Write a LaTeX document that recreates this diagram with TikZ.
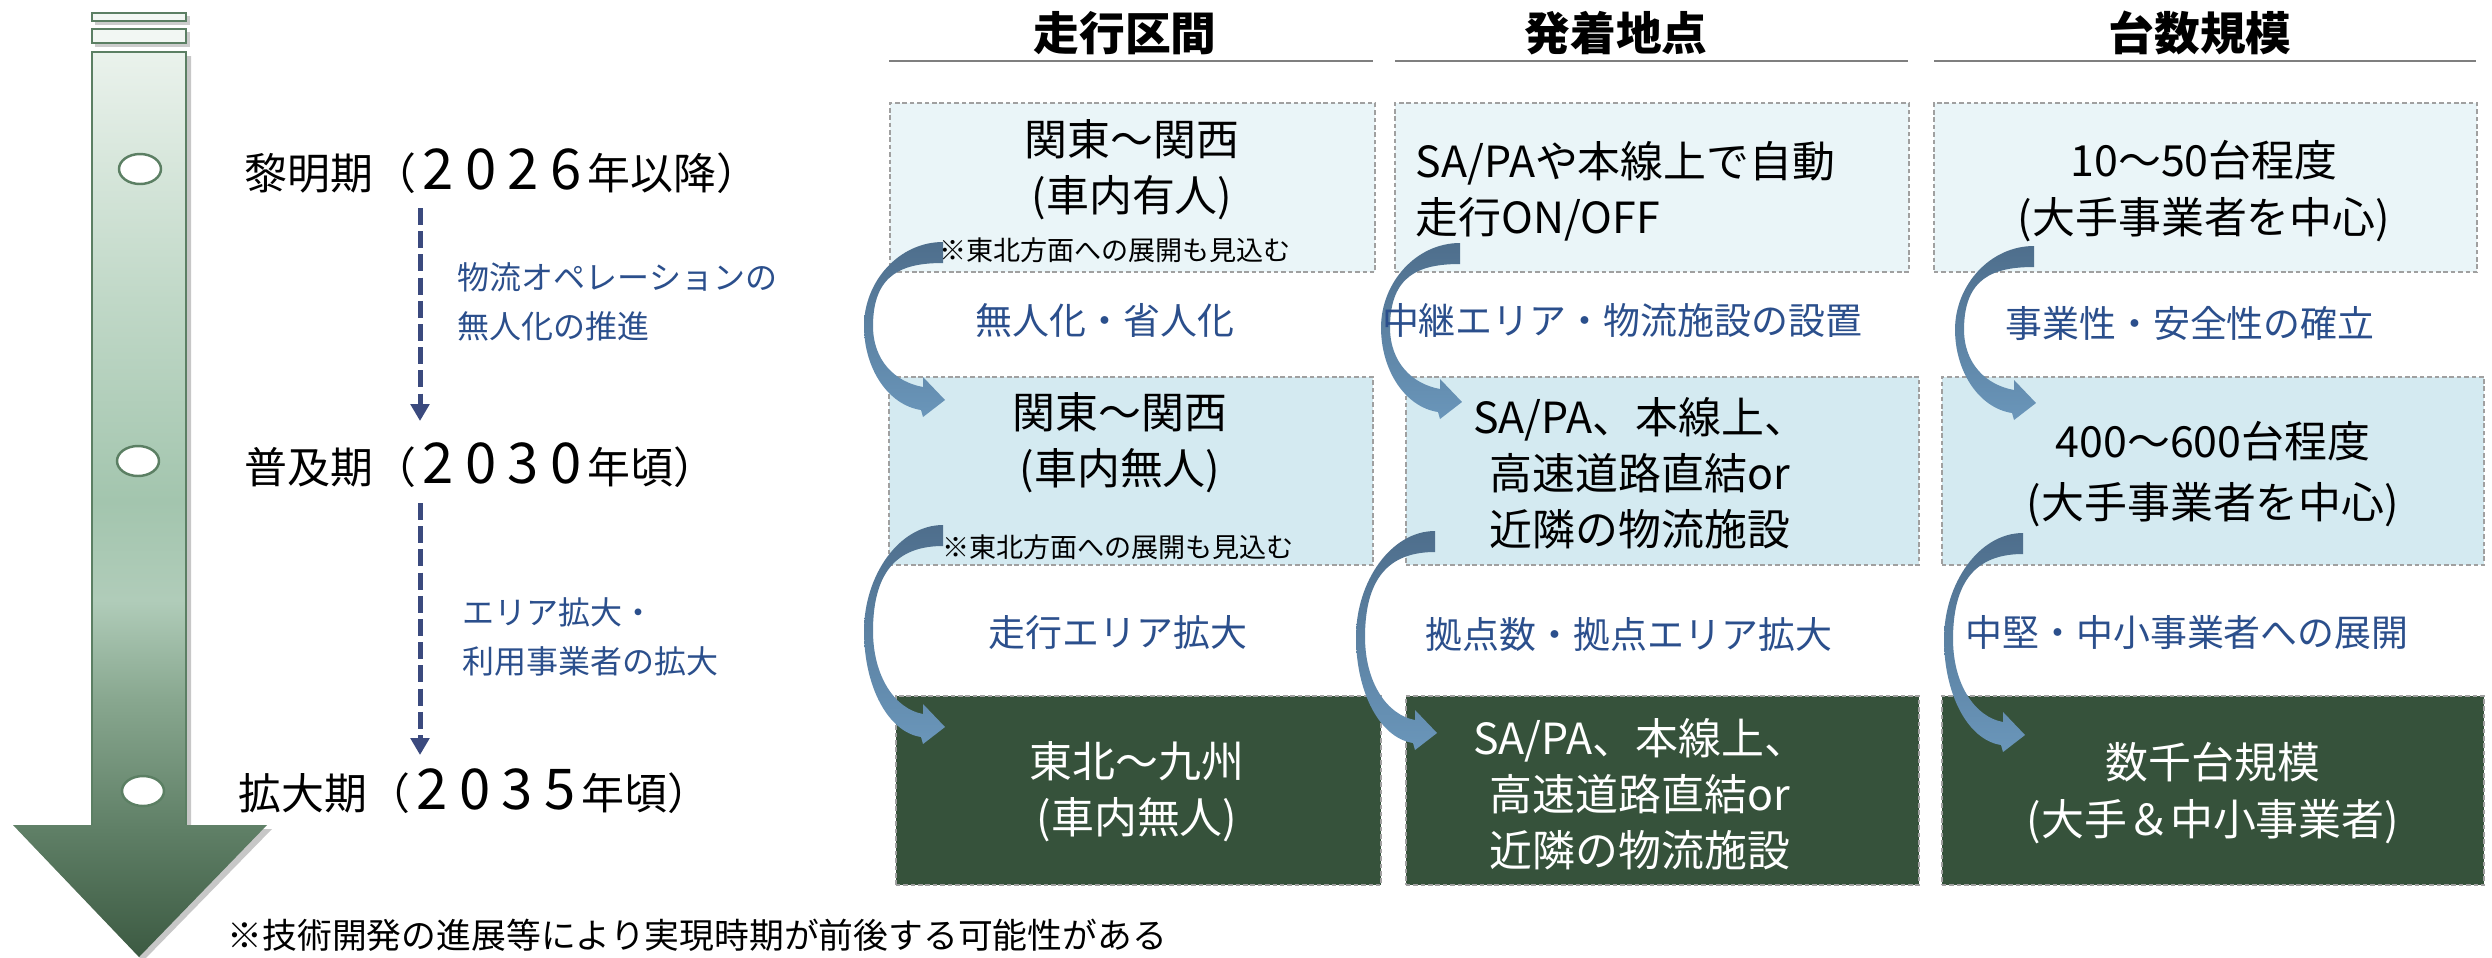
\documentclass[tikz,border=0pt]{standalone}
\usepackage{fontspec}
\setmainfont{Noto Sans CJK JP}
\usetikzlibrary{arrows.meta}
\definecolor{ga1}{HTML}{EAF2EC}
\definecolor{ga2}{HTML}{C0D8C7}
\definecolor{ga3}{HTML}{A3C5AE}
\definecolor{ga4}{HTML}{B0CCB9}
\definecolor{ga5}{HTML}{88A78F}
\definecolor{ga6}{HTML}{5F7F66}
\definecolor{ga7}{HTML}{3C5A42}
\definecolor{gborder}{HTML}{5B7F63}
\definecolor{barfill}{HTML}{F2F7F3}
\definecolor{rowA}{HTML}{EAF5F8}
\definecolor{rowB}{HTML}{D4EAF1}
\definecolor{rowC}{HTML}{36523B}
\definecolor{boxline}{HTML}{A0A0A0}
\definecolor{lblue}{HTML}{2B4F8C}
\definecolor{dblue}{HTML}{3B4A7E}
\definecolor{arB}{HTML}{4E6E8C}
\definecolor{arC}{HTML}{6A96BA}
\definecolor{hline}{HTML}{7F7F7F}
\pgfdeclareverticalshading{shaftshade}{100bp}{color(0bp)=(ga7); color(25bp)=(ga7); color(32bp)=(ga6); color(39.2bp)=(ga5); color(44.7bp)=(ga4); color(50.2bp)=(ga3); color(61.3bp)=(ga2); color(75bp)=(ga1); color(100bp)=(ga1)}
\newcommand\fsPeriod{\fontsize{12.2pt}{14pt}\selectfont}
\newcommand\fsBox{\fontsize{12.2pt}{16pt}\selectfont}
\newcommand\fsHead{\fontsize{13pt}{15pt}\selectfont\bfseries}
\newcommand\fsNote{\fontsize{7.7pt}{9pt}\selectfont}
\newcommand\fsLbl{\fontsize{10.5pt}{12pt}\selectfont}
\newcommand\fsSide{\fontsize{9.1pt}{14pt}\selectfont}
\newcommand\fsFoot{\fontsize{9.9pt}{12pt}\selectfont}
\newcommand\dgt[1]{\makebox[12.2pt][c]{\fontsize{16pt}{16pt}\selectfont #1}}
\newcommand\curvarr[3]{%
  \begin{scope}[shift={(#1,#2)}]
    \shade[top color=arB, bottom color=arC]
      (0,0) .. controls (-44,0) and (-79,{0.25*#3}) .. (-79,{0.5*(#3+10)})
      .. controls (-79,{0.8*#3}) and (-55,{#3+5}) .. (-22,{#3+10})
      -- (-20,{#3+17}) -- (2,#3) -- (-20,{#3-23}) -- (-20,{#3-13})
      .. controls (-48,{#3-18}) and (-70,{0.75*#3}) .. (-70,{0.5*(#3+10)})
      .. controls (-70,{0.2*#3}) and (-40,21) .. (0,21) -- cycle;
  \end{scope}}
\tikzset{
  boxbase/.style={draw=boxline, line width=0.43pt, dash pattern=on 1.3pt off 0.8pt, inner sep=0pt, outer sep=0pt},
  boxA/.style={boxbase, fill=rowA},
  boxB/.style={boxbase, fill=rowB},
  boxC/.style={boxbase, fill=rowC},
  boxtext/.style={font=\fsBox, align=center, inner sep=0pt},
  notetext/.style={font=\fsNote, inner sep=0pt},
  lbltext/.style={font=\fsLbl, text=lblue, inner sep=0pt},
  sidetext/.style={font=\fsSide, text=lblue, align=left, anchor=west, inner sep=0pt},
  periodtext/.style={font=\fsPeriod, anchor=west, inner sep=0pt},
  headtext/.style={font=\fsHead, inner sep=0pt},
  dasharrow/.style={draw=dblue, line width=1.42pt, dash pattern=on 4.8pt off 1.8pt, -{Triangle[width=5.2pt,length=4.8pt]}},
  underline/.style={draw=hline, line width=0.6pt},
  timecircle/.style={fill=white, draw=gborder, line width=0.7pt}
}
\begin{document}
\begin{tikzpicture}[x=0.01cm, y=-0.01cm]
\useasboundingbox (0,0) rectangle (2492,957);
\fill[white] (0,0) rectangle (2492,957);

% ---- big timeline arrow ----
\fill[black, opacity=0.22] (96,56) -- (191,56) -- (191,829) -- (272,829) -- (143,961) -- (17,829) -- (96,829) -- cycle;
\shade[shading=shaftshade] (92,52) -- (186,52) -- (186,825) -- (267,825) -- (139,957) -- (13,825) -- (92,825) -- cycle;
\draw[gborder, line width=0.5pt] (92,825) -- (92,52) -- (186,52) -- (186,825);
\fill[black, opacity=0.2] (95,16) rectangle (190,25);
\fill[black, opacity=0.2] (95,32) rectangle (190,47);
\draw[gborder, fill=barfill, line width=0.5pt] (92,13) rectangle (186,21);
\draw[gborder, fill=barfill, line width=0.5pt] (92,29) rectangle (186,43);
\draw[timecircle] (140,169) ellipse [x radius=21, y radius=15];
\draw[timecircle] (138,461) ellipse [x radius=21, y radius=15];
\draw[timecircle] (143,791) ellipse [x radius=21, y radius=15];

% ---- period labels ----
\node[periodtext] (p1) at (244,171) {黎明期（\dgt{2}\dgt{0}\dgt{2}\dgt{6}年以降）};
\node[periodtext] (p2) at (244,465) {普及期（\dgt{2}\dgt{0}\dgt{3}\dgt{0}年頃）};
\node[periodtext] (p3) at (238,791) {拡大期（\dgt{2}\dgt{0}\dgt{3}\dgt{5}年頃）};
\coordinate (d1a) at (420,208);
\coordinate (d1b) at (420,421);
\coordinate (d2a) at (420,503);
\coordinate (d2b) at (420,755);
\draw[dasharrow] (d1a) -- (d1b);
\draw[dasharrow] (d2a) -- (d2b);
\node[sidetext] (s1) at (457,302) {物流オペレーションの\\無人化の推進};
\node[sidetext] (s2) at (462,637) {エリア拡大・\\利用事業者の拡大};

% ---- headers ----
\node[headtext] (h1) at (1125,33) {走行区間};
\node[headtext] (h2) at (1616,33) {発着地点};
\node[headtext] (h3) at (2200,33) {台数規模};
\draw[underline] (889,61) -- (1373,61);
\draw[underline] (1395,61) -- (1908,61);
\draw[underline] (1934,61) -- (2476,61);

% ---- boxes ----
\node[boxA, minimum width=4.85cm, minimum height=1.69cm] (b11) at (1132.5,187.5) {};
\node[boxA, minimum width=5.14cm, minimum height=1.69cm] (b12) at (1652,187.5) {};
\node[boxA, minimum width=5.43cm, minimum height=1.69cm] (b13) at (2205.5,187.5) {};
\node[boxB, minimum width=4.84cm, minimum height=1.88cm] (b21) at (1131,471) {};
\node[boxB, minimum width=5.13cm, minimum height=1.88cm] (b22) at (1662.5,471) {};
\node[boxB, minimum width=5.42cm, minimum height=1.88cm] (b23) at (2213,471) {};
\node[boxC, minimum width=4.85cm, minimum height=1.89cm] (b31) at (1138.5,790.5) {};
\node[boxC, minimum width=5.13cm, minimum height=1.89cm] (b32) at (1662.5,790.5) {};
\node[boxC, minimum width=5.42cm, minimum height=1.89cm] (b33) at (2213,790.5) {};

% ---- curved arrows ----
\curvarr{943}{242}{158}
\curvarr{1460}{243}{159}
\curvarr{2034}{246}{157}
\curvarr{943}{525}{202}
\curvarr{1435}{531}{202}
\curvarr{2023}{533}{202}

% ---- box texts ----
\node[boxtext] (t11) at (1132,170) {関東～関西\\(車内有人)};
\node[notetext] (n11) at (1115,250) {※東北方面への展開も見込む};
\node[boxtext, align=left, anchor=west] (t12) at (1415,191) {SA/PAや本線上で自動\\走行ON/OFF};
\node[boxtext] (t13) at (2204,191) {10～50台程度\\(大手事業者を中心)};
\node[boxtext] (t21) at (1120,443) {関東～関西\\(車内無人)};
\node[notetext] (n21) at (1118,547) {※東北方面への展開も見込む};
\node[boxtext] (t22) at (1640,473) {SA/PA、本線上、\\高速道路直結or\\近隣の物流施設};
\node[boxtext, font=\fontsize{12.2pt}{17.5pt}\selectfont] (t23) at (2213,474) {400～600台程度\\(大手事業者を中心)};
\node[boxtext, text=white] (t31) at (1137,792) {東北～九州\\(車内無人)};
\node[boxtext, text=white] (t32) at (1640,794) {SA/PA、本線上、\\高速道路直結or\\近隣の物流施設};
\node[boxtext, text=white] (t33) at (2213,793) {数千台規模\\(大手＆中小事業者)};

% ---- transition labels ----
\node[lbltext] (l1) at (1105,320) {無人化・省人化};
\node[lbltext] (l2) at (1622,320) {中継エリア・物流施設の設置};
\node[lbltext] (l3) at (2190,323) {事業性・安全性の確立};
\node[lbltext] (m1) at (1118,632) {走行エリア拡大};
\node[lbltext] (m2) at (1629,634) {拠点数・拠点エリア拡大};
\node[lbltext] (m3) at (2187,632) {中堅・中小事業者への展開};

% ---- footnote ----
\node[font=\fsFoot, anchor=west, inner sep=0pt] (fn) at (227,935) {※技術開発の進展等により実現時期が前後する可能性がある};
\end{tikzpicture}
\end{document}
